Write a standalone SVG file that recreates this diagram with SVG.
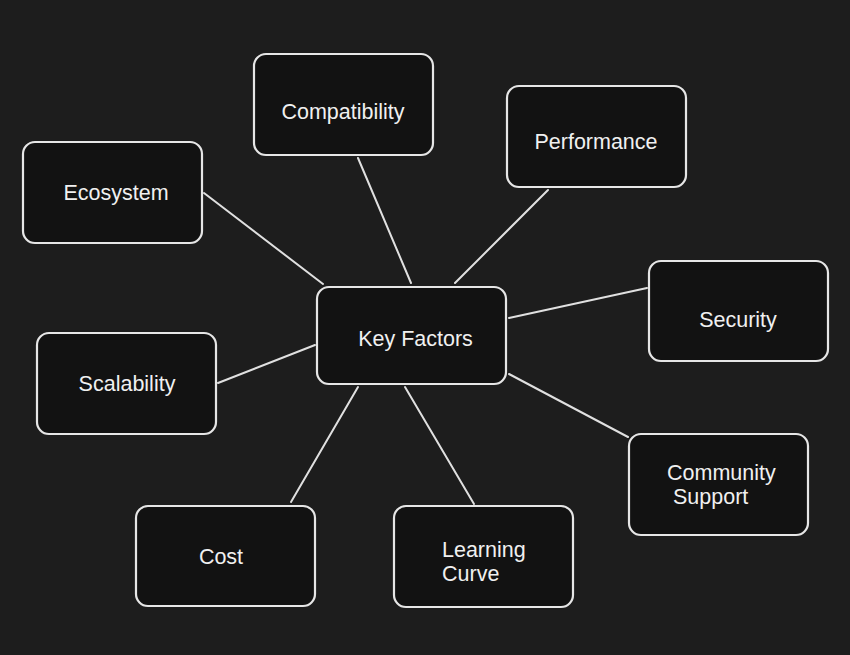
<svg xmlns="http://www.w3.org/2000/svg" width="850" height="655" viewBox="0 0 850 655">
<style>
.box{fill:#121212;stroke:#e6e6e6;stroke-width:2.2;}
.t{font-family:"Liberation Sans",Arial,sans-serif;font-size:21.5px;fill:#f0f0f0;}
.c{text-anchor:middle;}
.ln{stroke:#e0e0e0;stroke-width:2;fill:none;stroke-linecap:round;}
</style>
<rect width="850" height="655" fill="#1d1d1d"/>
<g id="connectors">
<line class="ln" x1="204" y1="193" x2="323" y2="284"/>
<line class="ln" x1="358" y1="158" x2="411" y2="283"/>
<line class="ln" x1="548" y1="190" x2="455" y2="283"/>
<line class="ln" x1="647" y1="288" x2="509" y2="318"/>
<line class="ln" x1="628" y1="437" x2="509" y2="374"/>
<line class="ln" x1="474" y1="504" x2="405" y2="387"/>
<line class="ln" x1="291" y1="502" x2="358" y2="387"/>
<line class="ln" x1="218" y1="383" x2="315" y2="345"/>
</g>
<g id="key-factors"><rect class="box" x="317" y="287" width="189" height="97" rx="12"/><text class="t c" x="415.5" y="346">Key Factors</text></g>
<g id="compatibility"><rect class="box" x="254" y="54" width="179" height="101" rx="12"/><text class="t c" x="343" y="119">Compatibility</text></g>
<g id="performance"><rect class="box" x="507" y="86" width="179" height="101" rx="12"/><text class="t c" x="596" y="149">Performance</text></g>
<g id="ecosystem"><rect class="box" x="23" y="142" width="179" height="101" rx="12"/><text class="t c" x="116" y="200">Ecosystem</text></g>
<g id="security"><rect class="box" x="649" y="261" width="179" height="100" rx="12"/><text class="t c" x="738" y="327">Security</text></g>
<g id="scalability"><rect class="box" x="37" y="333" width="179" height="101" rx="12"/><text class="t c" x="127" y="391">Scalability</text></g>
<g id="community-support"><rect class="box" x="629" y="434" width="179" height="101" rx="12"/><text class="t" x="667" y="480">Community</text><text class="t" x="673" y="504">Support</text></g>
<g id="learning-curve"><rect class="box" x="394" y="506" width="179" height="101" rx="12"/><text class="t" x="442" y="557">Learning</text><text class="t" x="442" y="581">Curve</text></g>
<g id="cost"><rect class="box" x="136" y="506" width="179" height="100" rx="12"/><text class="t c" x="221" y="564">Cost</text></g>
</svg>
